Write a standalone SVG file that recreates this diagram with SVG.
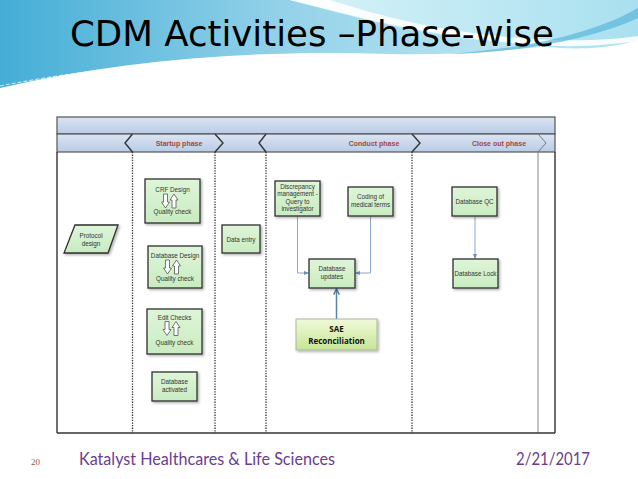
<svg xmlns="http://www.w3.org/2000/svg" width="638" height="479" viewBox="0 0 638 479">
<defs>
<linearGradient id="bgL" x1="0" y1="0" x2="1" y2="0">
<stop offset="0" stop-color="#3aa9d4"/>
<stop offset="0.45" stop-color="#8fd0e8"/>
<stop offset="1" stop-color="#cdeef6"/>
</linearGradient>
<linearGradient id="bgR" x1="0" y1="0" x2="1" y2="0">
<stop offset="0" stop-color="#d8f3f8"/>
<stop offset="1" stop-color="#a9e0ef"/>
</linearGradient>
<linearGradient id="hdr" x1="0" y1="0" x2="0" y2="1">
<stop offset="0" stop-color="#dbe5f3"/>
<stop offset="1" stop-color="#b9cbe5"/>
</linearGradient>
<linearGradient id="box" x1="0" y1="0" x2="0" y2="1">
<stop offset="0" stop-color="#dff5d9"/>
<stop offset="1" stop-color="#c9ecc1"/>
</linearGradient>
<linearGradient id="sae" x1="0" y1="0" x2="0" y2="1">
<stop offset="0" stop-color="#f1fad8"/>
<stop offset="1" stop-color="#c6e596"/>
</linearGradient>
<filter id="sh" x="-20%" y="-20%" width="150%" height="150%">
<feDropShadow dx="1.5" dy="1.5" stdDeviation="1" flood-color="#000" flood-opacity="0.3"/>
</filter>
<marker id="ah" viewBox="0 0 6 6" refX="5.5" refY="3" markerWidth="5" markerHeight="5" orient="auto">
<path d="M0,0.5 L6,3 L0,5.5 Z" fill="#6f8fb8"/>
</marker>
<marker id="ah2" viewBox="0 0 8 8" refX="7" refY="4" markerWidth="5" markerHeight="5" orient="auto">
<path d="M1,1 L7,4 L1,7" fill="none" stroke="#4d7ea8" stroke-width="1.6"/>
</marker>
<g id="dn"><path d="M-2,0 H2 V8 H4 L0,14 L-4,8 H-2 Z" fill="#fff" stroke="#555" stroke-width="0.8"/></g>
<g id="up"><path d="M-2,14 H2 V6 H4 L0,0 L-4,6 H-2 Z" fill="#fff" stroke="#555" stroke-width="0.8"/></g>
</defs>
<style>
.nb{fill:url(#box);stroke:#2f2f2f;stroke-width:1.3;filter:url(#sh)}
.t{font-family:"Liberation Sans",Arial,sans-serif;font-size:6.3px;fill:#333;text-anchor:middle}
.ph{font-family:"Liberation Sans",Arial,sans-serif;font-size:7px;font-weight:bold;fill:#a5473a;text-anchor:middle}
.dot{stroke:#333;stroke-width:1.3;stroke-dasharray:1.3 1.3;fill:none}
.cn{stroke:#8aa6c8;stroke-width:1;fill:none}
.chev{stroke:#333;stroke-width:1.4;fill:none}
.ft{font-family:Lato,"Open Sans",sans-serif;font-size:17px;fill:#6b3d8f}
</style>
<rect width="638" height="479" fill="#fff"/>
<!-- decorative background waves -->
<path d="M0,0 H638 V30 C560,48 470,56 390,54 C260,50 130,58 0,88 Z" fill="url(#bgL)" opacity="0.95"/>
<path d="M290,0 C360,18 430,40 560,48 C600,50 625,44 638,40 V0 Z" fill="url(#bgR)"/>
<path d="M290,0 C370,20 450,42 560,46 C590,47 615,44 638,41 V36 C610,40 585,41 555,40 C450,36 380,16 330,0 Z" fill="#fff" opacity="0.9"/>
<path d="M450,54 C520,52 590,40 638,18 V8 C600,30 540,46 470,52 Z" fill="#5ab6dc" opacity="0.7"/>
<path d="M0,86 C120,62 260,54 420,56" fill="none" stroke="#ffffff" stroke-width="1" stroke-dasharray="4 2" opacity="0.8"/>
<text x="70" y="46" font-family="'DejaVu Sans',Verdana,sans-serif" font-size="36" fill="#000" textLength="484" lengthAdjust="spacingAndGlyphs">CDM Activities –Phase-wise</text>

<!-- swimlane frame -->
<g id="frame">
<rect x="57" y="117" width="498" height="17" fill="url(#hdr)" stroke="#555" stroke-width="1.2"/>
<rect x="57" y="134" width="498" height="18" fill="url(#hdr)" stroke="#555" stroke-width="1.2"/>
<line x1="57" y1="152" x2="57" y2="433" stroke="#333" stroke-width="1.4"/>
<line x1="555" y1="152" x2="555" y2="433" stroke="#333" stroke-width="1.4"/>
<line x1="538" y1="152" x2="538" y2="433" stroke="#888" stroke-width="1"/>
<line x1="57" y1="433" x2="555" y2="433" stroke="#333" stroke-width="1.6"/>
<line class="dot" x1="132.5" y1="152" x2="132.5" y2="433"/>
<line class="dot" x1="215" y1="152" x2="215" y2="433"/>
<line class="dot" x1="266" y1="152" x2="266" y2="433"/>
<line class="dot" x1="412" y1="152" x2="412" y2="433"/>
<path class="chev" d="M132.5,134 L125,143 L132.5,152"/>
<path class="chev" d="M215,134 L223,143 L215,152"/>
<path class="chev" d="M266,134 L259,143 L266,152"/>
<path class="chev" d="M412,134 L420,143 L412,152"/>
<path d="M538,134 L546,143 L538,152" fill="none" stroke="#777" stroke-width="1"/>
<text class="ph" x="179" y="145.5">Startup phase</text>
<text class="ph" x="374" y="145.5">Conduct phase</text>
<text class="ph" x="499" y="145.5">Close out phase</text>
</g>

<!-- connectors -->
<g id="connectors">
<path class="cn" d="M297.5,216.5 V273 H308.5" marker-end="url(#ah)"/>
<path class="cn" d="M370.5,216.5 V273 H355.5" marker-end="url(#ah)"/>
<path class="cn" d="M475,216.5 V258.5" marker-end="url(#ah)"/>
<path d="M336.5,319 V289" fill="none" stroke="#5583aa" stroke-width="1.5" marker-end="url(#ah2)"/>
</g>

<!-- nodes -->
<g id="protocol">
<path d="M75,225 H118 L108,253 H64 Z" fill="url(#box)" stroke="#2f2f2f" stroke-width="1.3" filter="url(#sh)"/>
<text class="t" x="91" y="237.5">Protocol</text>
<text class="t" x="91" y="245.5">design</text>
</g>
<g id="crf">
<rect class="nb" x="145" y="179" width="55" height="44"/>
<text class="t" x="172.5" y="191.5">CRF Design</text>
<use href="#dn" x="165.5" y="194"/>
<use href="#up" x="174" y="194"/>
<text class="t" x="172.5" y="214">Quality check</text>
</g>
<g id="dbdesign">
<rect class="nb" x="148" y="246" width="54" height="42"/>
<text class="t" x="175" y="257.5">Database Design</text>
<use href="#dn" x="167.5" y="260"/>
<use href="#up" x="176.5" y="260"/>
<text class="t" x="175" y="280.5">Quality check</text>
</g>
<g id="editchecks">
<rect class="nb" x="147" y="309" width="55" height="45"/>
<text class="t" x="174.5" y="319.5">Edit Checks</text>
<use href="#dn" x="167" y="321.5"/>
<use href="#up" x="176" y="321.5"/>
<text class="t" x="174.5" y="344.5">Quality check</text>
</g>
<g id="dbactivated">
<rect class="nb" x="152" y="372" width="45" height="29"/>
<text class="t" x="174.5" y="384">Database</text>
<text class="t" x="174.5" y="392">activated</text>
</g>
<g id="dataentry">
<rect class="nb" x="222" y="225" width="38" height="28"/>
<text class="t" x="241" y="241.5">Data entry</text>
</g>
<g id="discrepancy">
<rect class="nb" x="275" y="181" width="45" height="35"/>
<text class="t" x="297.5" y="188.5">Discrepancy</text>
<text class="t" x="297.5" y="196">management -</text>
<text class="t" x="297.5" y="203.5">Query to</text>
<text class="t" x="297.5" y="211">investigator</text>
</g>
<g id="coding">
<rect class="nb" x="348" y="187" width="45" height="29"/>
<text class="t" x="370.5" y="199">Coding of</text>
<text class="t" x="370.5" y="207">medical terms</text>
</g>
<g id="dbqc">
<rect class="nb" x="452" y="187" width="45" height="29"/>
<text class="t" x="474.5" y="203.5">Database QC</text>
</g>
<g id="dbupdates">
<rect class="nb" x="309" y="259" width="46" height="29"/>
<text class="t" x="332" y="271">Database</text>
<text class="t" x="332" y="279">updates</text>
</g>
<g id="dblock">
<rect class="nb" x="453" y="259" width="45" height="29"/>
<text class="t" x="475.5" y="275.5">Database Lock</text>
</g>
<g id="sae">
<rect x="296" y="319" width="81" height="31" fill="url(#sae)" stroke="#a9b89a" stroke-width="1" filter="url(#sh)"/>
<text x="336.5" y="332" font-family="'Open Sans','Liberation Sans',sans-serif" font-size="8" font-weight="bold" fill="#111" text-anchor="middle">SAE</text>
<text x="336.5" y="344" font-family="'Open Sans','Liberation Sans',sans-serif" font-size="8" font-weight="bold" fill="#111" text-anchor="middle">Reconciliation</text>
</g>

<!-- footer -->
<text x="31" y="465" font-family="'Liberation Serif',serif" font-size="9" fill="#a0522d">20</text>
<text class="ft" x="79" y="465" textLength="256" lengthAdjust="spacingAndGlyphs">Katalyst Healthcares &amp; Life Sciences</text>
<text class="ft" x="516" y="465" textLength="74" lengthAdjust="spacingAndGlyphs">2/21/2017</text>
</svg>
